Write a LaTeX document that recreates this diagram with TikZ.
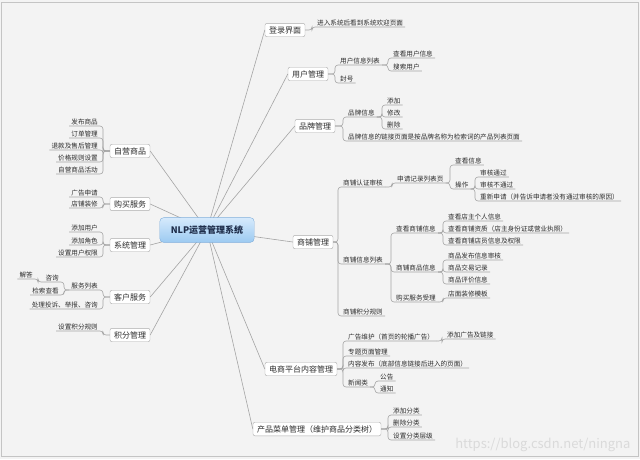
\documentclass[tikz,border=0pt]{standalone}
\usepackage{fontspec}
\newfontfamily\cjk{Noto Sans CJK SC}
\usepackage{tikz}
\definecolor{bgpaper}{HTML}{F3F3F3}
\definecolor{framegray}{HTML}{C4C4C4}
\definecolor{linegray}{HTML}{A4A4A4}
\definecolor{boxgray}{HTML}{ABABAB}
\definecolor{inkgray}{HTML}{2C2C2C}
\definecolor{hubtop}{HTML}{D6EAFC}
\definecolor{hubbot}{HTML}{9CCAF1}
\definecolor{hubedge}{HTML}{80AEDB}
\definecolor{hubink}{HTML}{1E2D4A}
\definecolor{markgray}{HTML}{DADADA}

\begin{document}
\begin{tikzpicture}[x=1pt, y=-1pt,
    hub/.style   ={rectangle, rounded corners=4pt, draw=hubedge,
                   top color=hubtop, bottom color=hubbot,
                   inner xsep=11pt, inner ysep=8pt,
                   font=\cjk\bfseries\fontsize{9}{10}\selectfont, text=hubink},
    topic/.style ={rectangle, rounded corners=2pt, draw=boxgray, fill=white,
                   inner xsep=4pt, inner ysep=3pt,
                   font=\cjk\fontsize{8}{9}\selectfont, text=inkgray},
    leaf/.style  ={inner xsep=2pt, inner ysep=1pt, anchor=south west,
                   font=\cjk\fontsize{6.6}{7.5}\selectfont, text=inkgray},
    lleaf/.style ={leaf, anchor=south east},
    spoke/.style ={draw=linegray, line width=0.6pt},
    branch/.style={draw=linegray, line width=0.6pt, rounded corners=3pt}
]

% ============================================================
% FOND
% ============================================================
\useasboundingbox (0,0) rectangle (640,459);
\fill[bgpaper] (0,0) rectangle (640,459);
\draw[framegray, line width=1pt] (1.5,2.5) rectangle (638.5,456.5);
\node[font=\cjk\fontsize{13}{15}\selectfont, text=markgray, anchor=east]
    (mark) at (634,445) {https://blog.csdn.net/ningna};

% ============================================================
% THEMES PRINCIPAUX
% ============================================================

% -- droite --
\node[topic] (login) at (285, 30)  {登录界面};
\node[topic] (um)    at (308, 74)  {用户管理};
\node[topic] (pm)    at (315,126)  {品牌管理};
\node[topic] (sm)    at (313,242)  {商铺管理};
\node[topic] (cm)    at (301,369)  {电商平台内容管理};
\node[topic] (mm)    at (317,429)  {产品菜单管理（维护商品分类树）};

% -- gauche --
\node[topic] (zy)    at (130,151)  {自营商品};
\node[topic] (gm)    at (130,204)  {购买服务};
\node[topic] (xt)    at (130,245)  {系统管理};
\node[topic] (kf)    at (130,297)  {客户服务};
\node[topic] (jf)    at (130,335)  {积分管理};

% -- centre --
\coordinate (hubc) at (207,230);
\foreach \t in {login,um,pm,sm,cm,mm}
    \draw[spoke] (hubc) -- (\t.west);
\foreach \t in {zy,gm,xt,kf,jf}
    \draw[spoke] (hubc) -- (\t.east);
\node[hub] (root) at (hubc) {NLP运营管理系统};

% ============================================================
% FEUILLES (droite)
% ============================================================

% -- 登录界面 --
\node[leaf] (d1)  at (315, 27) {进入系统后看到系统欢迎页面};

% -- 用户管理 --
\node[leaf] (u1)  at (338, 65) {用户信息列表};
\node[leaf] (u2)  at (338, 83) {封号};
\node[leaf] (u11) at (391, 58) {查看用户信息};
\node[leaf] (u12) at (391, 71) {搜索用户};

% -- 品牌管理 --
\node[leaf] (p1)  at (346,117) {品牌信息};
\node[leaf] (p2)  at (346,141) {品牌信息的链接页面是按品牌名称为检索词的产品列表页面};
\node[leaf] (p11) at (385,105) {添加};
\node[leaf] (p12) at (385,117) {修改};
\node[leaf] (p13) at (385,129) {删除};

% -- 商铺管理 --
\node[leaf] (s1)    at (341,187) {商铺认证审核};
\node[leaf] (s2)    at (341,264) {商铺信息列表};
\node[leaf] (s3)    at (341,316) {商铺积分规则};
\node[leaf] (s11)   at (395,183) {申请记录列表页};
\node[leaf] (s111)  at (453,165) {查看信息};
\node[leaf] (s112)  at (453,189) {操作};
\node[leaf] (s1121) at (478,177) {审核通过};
\node[leaf] (s1122) at (478,189) {审核不通过};
\node[leaf] (s1123) at (478,201) {重新申请（并告诉申请者没有通过审核的原因）};
\node[leaf] (s21)   at (394,233) {查看商铺信息};
\node[leaf] (s22)   at (394,272) {商铺商品信息};
\node[leaf] (s23)   at (394,302) {购买服务受理};
\node[leaf] (s211)  at (446,221) {查看店主个人信息};
\node[leaf] (s212)  at (446,233) {查看商铺资质（店主身份证或营业执照）};
\node[leaf] (s213)  at (446,245) {查看商铺店员信息及权限};
\node[leaf] (s221)  at (446,260) {商品发布信息审核};
\node[leaf] (s222)  at (446,272) {商品交易记录};
\node[leaf] (s223)  at (446,284) {商品评价信息};
\node[leaf] (s231)  at (446,298) {店面装修模板};

% -- 电商平台内容管理 --
\node[leaf] (c1)  at (346,341) {广告维护（首页的轮播广告）};
\node[leaf] (c2)  at (346,356) {专题页面管理};
\node[leaf] (c3)  at (346,368) {内容发布（底部信息链接后进入的页面）};
\node[leaf] (c4)  at (346,387) {新闻类};
\node[leaf] (c11) at (445,339) {添加广告及链接};
\node[leaf] (c41) at (378,381) {公告};
\node[leaf] (c42) at (378,393) {通知};

% -- 产品菜单管理 --
\node[leaf] (m1)  at (391,415) {添加分类};
\node[leaf] (m2)  at (391,427) {删除分类};
\node[leaf] (m3)  at (391,440) {设置分类层级};

% ============================================================
% FEUILLES (gauche)
% ============================================================

\node[lleaf] (z1) at (100,126) {发布商品};
\node[lleaf] (z2) at (100,138) {订单管理};
\node[lleaf] (z3) at (100,150) {退款及售后管理};
\node[lleaf] (z4) at (100,162) {价格规则设置};
\node[lleaf] (z5) at (100,174) {自营商品活动};

\node[lleaf] (g1) at (100,197) {广告申请};
\node[lleaf] (g2) at (100,208) {店铺装修};

\node[lleaf] (x1) at (100,232) {添加用户};
\node[lleaf] (x2) at (100,245) {添加角色};
\node[lleaf] (x3) at (100,257) {设置用户权限};

\node[lleaf] (k1)   at (100,290) {服务列表};
\node[lleaf] (k2)   at (100,309) {处理投诉、举报、咨询};
\node[lleaf] (k11)  at ( 61,282) {咨询};
\node[lleaf] (k12)  at ( 61,295) {检索查看};
\node[lleaf] (k111) at ( 35,279) {解答};

\node[lleaf] (j1) at (100,331) {设置积分规则};

% ============================================================
% BRANCHES
% ============================================================

% themes droite -> feuilles
\draw[branch] (login.east) -| ([xshift=-3pt]d1.south west) -- (d1.south east);
\foreach \c in {u1,u2}
    \draw[branch] (um.east) -| ([xshift=-3pt]\c.south west) -- (\c.south east);
\foreach \c in {p1,p2}
    \draw[branch] (pm.east) -| ([xshift=-3pt]\c.south west) -- (\c.south east);
\foreach \c in {s1,s2,s3}
    \draw[branch] (sm.east) -| ([xshift=-3pt]\c.south west) -- (\c.south east);
\foreach \c in {c1,c2,c3,c4}
    \draw[branch] (cm.east) -| ([xshift=-3pt]\c.south west) -- (\c.south east);
\foreach \c in {m1,m2,m3}
    \draw[branch] (mm.east) -| ([xshift=-3pt]\c.south west) -- (\c.south east);

% feuilles -> sous-feuilles (droite)
\foreach \p/\c in {u1/u11, u1/u12, p1/p11, p1/p12, p1/p13,
                   s1/s11, s11/s111, s11/s112,
                   s112/s1121, s112/s1122, s112/s1123,
                   s2/s21, s2/s22, s2/s23,
                   s21/s211, s21/s212, s21/s213,
                   s22/s221, s22/s222, s22/s223, s23/s231,
                   c1/c11, c4/c41, c4/c42}
    \draw[branch] (\p.south east) -| ([xshift=-3pt]\c.south west) -- (\c.south east);

% themes gauche -> feuilles
\foreach \p/\c in {zy/z1, zy/z2, zy/z3, zy/z4, zy/z5,
                   gm/g1, gm/g2, xt/x1, xt/x2, xt/x3,
                   kf/k1, kf/k2, jf/j1}
    \draw[branch] (\p.west) -| ([xshift=3pt]\c.south east) -- (\c.south west);

% feuilles -> sous-feuilles (gauche)
\foreach \p/\c in {k1/k11, k1/k12, k11/k111}
    \draw[branch] (\p.south west) -| ([xshift=3pt]\c.south east) -- (\c.south west);

\end{tikzpicture}
\end{document}
